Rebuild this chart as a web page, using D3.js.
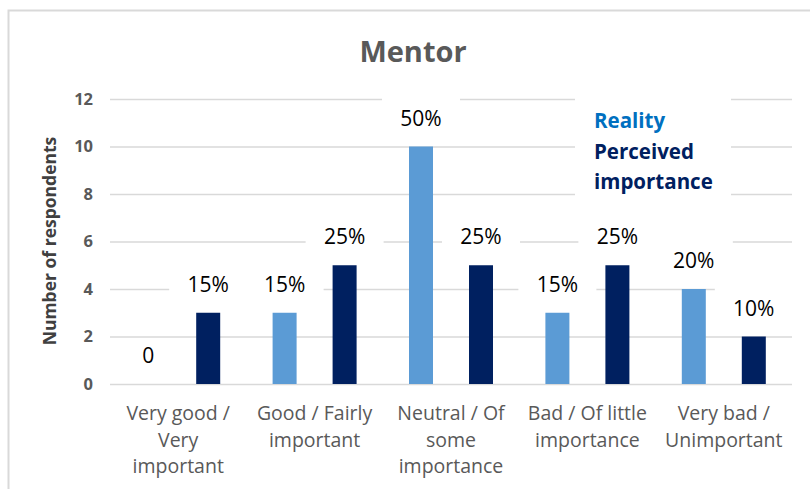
<!DOCTYPE html>
<html>
<head>
<meta charset="utf-8">
<script src="https://cdn.jsdelivr.net/npm/d3@7"></script>
<style>
  html, body { margin: 0; padding: 0; background: #fff; }
  svg { display: block; }
  text { font-family: "Open Sans", Lato, "Liberation Sans", sans-serif; }
</style>
</head>
<body>
<svg id="chart" width="810" height="489"></svg>
<script>
// ---- data ----
const categories = [
  ["Very good /", "Very", "important"],
  ["Good / Fairly", "important"],
  ["Neutral / Of", "some", "importance"],
  ["Bad / Of little", "importance"],
  ["Very bad /", "Unimportant"]
];
const categoryKeys = ["Very good / Very important", "Good / Fairly important", "Neutral / Of some importance", "Bad / Of little importance", "Very bad / Unimportant"];
const seriesNames = ["Reality", "Perceived importance"];
const realityValues = [0, 3, 10, 3, 4];
const perceivedValues = [3, 5, 5, 5, 2];
const realityLabels = ["0", "15%", "50%", "15%", "20%"];
const perceivedLabels = ["15%", "25%", "25%", "25%", "10%"];
const yTicks = [0, 2, 4, 6, 8, 10, 12];
const title = "Mentor";
const yTitle = "Number of respondents";

// ---- layout ----
const colors = { "Reality": "#5B9BD5", "Perceived importance": "#002060" };
const svg = d3.select("#chart");
const plot = { left: 110, right: 792, top: 99, bottom: 384 };

// chart border
svg.append("rect").attr("x", 8.5).attr("y", 10.5).attr("width", 900).attr("height", 600)
  .attr("fill", "#fff").attr("stroke", "#D9D9D9").attr("stroke-width", 2);

const x0 = d3.scaleBand().domain(categoryKeys).range([plot.left, plot.right]).padding(0);
const bw = x0.bandwidth();
const x1 = d3.scaleBand().domain(seriesNames).range([bw / 2 - 60, bw / 2 + 60]).paddingInner(0.6).paddingOuter(0.3);
const y = d3.scaleLinear().domain([0, 12]).range([plot.bottom, plot.top]);

// gridlines
const yAxis = d3.axisLeft(y).tickValues(yTicks).tickSize(-(plot.right - plot.left)).tickPadding(17);
const gy = svg.append("g").attr("transform", `translate(${plot.left},0)`).call(yAxis);
gy.select(".domain").remove();
gy.selectAll(".tick line").attr("stroke", "#D9D9D9").attr("stroke-width", 1.3);
gy.selectAll(".tick text").attr("fill", "#595959").attr("font-size", 16.5).attr("font-weight", "bold")
  .style("font-family", "'Open Sans', sans-serif");

// title
svg.append("text").attr("x", 413).attr("y", 62).attr("text-anchor", "middle")
  .attr("font-size", 29).attr("font-weight", "bold").attr("fill", "#595959").text(title);

// y axis title
svg.append("text").attr("transform", "translate(56,241) rotate(-90)").attr("text-anchor", "middle")
  .attr("font-size", 17.5).attr("font-weight", "bold").attr("fill", "#404040").text(yTitle);

// rows
const rows = categoryKeys.map((c, i) => ({
  key: c,
  items: [
    { s: "Reality", v: realityValues[i], label: realityLabels[i] },
    { s: "Perceived importance", v: perceivedValues[i], label: perceivedLabels[i] }
  ]
}));

// data label boxes (white fill, cover gridlines)
const labelOffset = 29;
const groups = svg.append("g").selectAll("g").data(rows).join("g")
  .attr("transform", d => `translate(${x0(d.key)},0)`);

groups.selectAll("rect.lb").data(d => d.items.filter(it => it.v > 0)).join("rect")
  .attr("class", "lb")
  .attr("x", d => x1(d.s) + x1.bandwidth() / 2 - 39)
  .attr("y", d => y(d.v) - labelOffset - 21)
  .attr("width", 78).attr("height", 34).attr("fill", "#fff");

groups.selectAll("rect.bar").data(d => d.items).join("rect")
  .attr("class", "bar")
  .attr("x", d => x1(d.s))
  .attr("y", d => y(d.v))
  .attr("width", x1.bandwidth())
  .attr("height", d => y(0) - y(d.v))
  .attr("fill", d => colors[d.s]);

groups.selectAll("text.lbl").data(d => d.items).join("text")
  .attr("class", "lbl")
  .attr("x", d => x1(d.s) + x1.bandwidth() / 2)
  .attr("y", d => y(d.v) - labelOffset + 8)
  .attr("text-anchor", "middle")
  .attr("font-size", 21).attr("fill", "#000").text(d => d.label);

// category labels
const xl = svg.append("g");
categories.forEach((lines, i) => {
  const t = xl.append("text").attr("text-anchor", "middle")
    .attr("font-size", 19.5).attr("fill", "#595959");
  lines.forEach((ln, j) => {
    t.append("tspan").attr("x", x0(categoryKeys[i]) + bw / 2).attr("y", 420 + j * 26.5).text(ln);
  });
});

// legend
svg.append("rect").attr("x", 575).attr("y", 93).attr("width", 156).attr("height", 107).attr("fill", "#fff");
const legendLines = [
  { text: "Reality", color: "#0070C0" },
  { text: "Perceived", color: "#002060" },
  { text: "importance", color: "#002060" }
];
svg.append("g").selectAll("text").data(legendLines).join("text")
  .attr("x", 594).attr("y", (d, i) => 128 + i * 30.5)
  .attr("font-size", 20.5).attr("font-weight", "bold")
  .attr("fill", d => d.color).text(d => d.text);
</script>
</body>
</html>
